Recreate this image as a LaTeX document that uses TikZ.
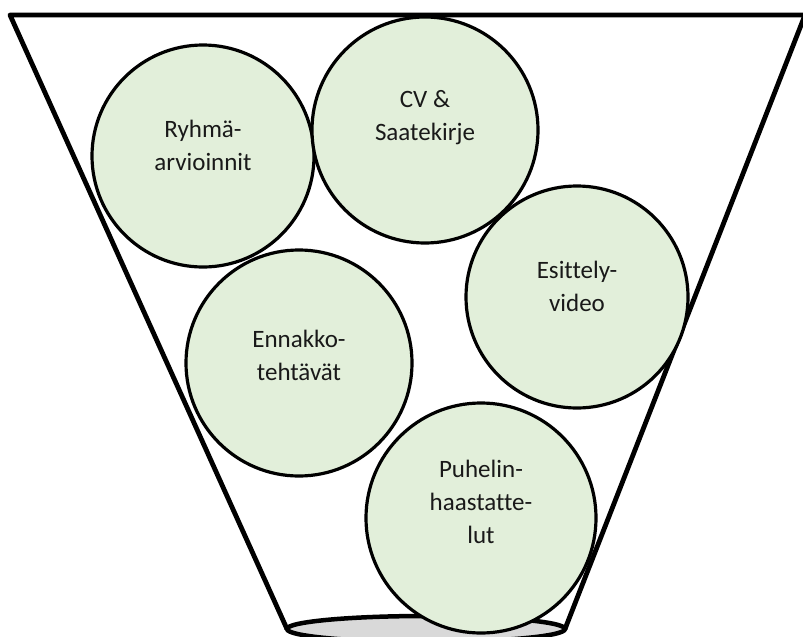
\documentclass[tikz,border=0pt]{standalone}
\usepackage{fontspec}
\setmainfont{Carlito}[Ligatures=CommonOff]
\usetikzlibrary{shapes.geometric}
\definecolor{ballgreen}{HTML}{E2EFDA}
\definecolor{basegray}{HTML}{D9D9D9}
\begin{document}
\begin{tikzpicture}[x=1pt,y=-1pt,
  ball/.style={circle,draw=black,line width=3.2pt,fill=ballgreen,
    minimum size=#1,inner sep=0pt},
  balltext/.style={align=center,font=\fontsize{25}{33}\selectfont,text=black!90},
  funnel/.style={line width=4.8pt,line join=round}]
\useasboundingbox (0,0) rectangle (803,637);
\clip (0,0) rectangle (803,637);
% funnel outline and its base
\coordinate (bl) at (287,629);
\coordinate (tl) at (10,15);
\coordinate (tr) at (805,15);
\coordinate (br) at (565,629);
\draw[funnel] (bl) -- (tl) -- (tr) -- (br);
\node[ellipse,draw=black,line width=4.5pt,fill=basegray,
  minimum width=278pt,minimum height=26pt,inner sep=0pt] (base) at (426,629) {};
% balls inside the funnel
\node[ball=222pt] (c1) at (203,156) {};
\node[ball=226pt] (c2) at (425,130) {};
\node[ball=222pt] (c3) at (577,297) {};
\node[ball=226pt] (c4) at (299,363) {};
\node[ball=230pt] (c5) at (481,518) {};
% labels sit a little above the centre of each ball
\node[balltext] (t1) at ([yshift=11]c1.center) {Ryhmä-\\arvioinnit};
\node[balltext] (t2) at ([yshift=12]c2.center) {CV \&\\Saatekirje};
\node[balltext] (t3) at ([yshift=11]c3.center) {Esittely-\\video};
\node[balltext] (t4) at ([yshift=8]c4.center) {Ennakko-\\tehtävät};
\node[balltext] (t5) at ([yshift=16]c5.center) {Puhelin-\\haastatte-\\lut};
\end{tikzpicture}
\end{document}
